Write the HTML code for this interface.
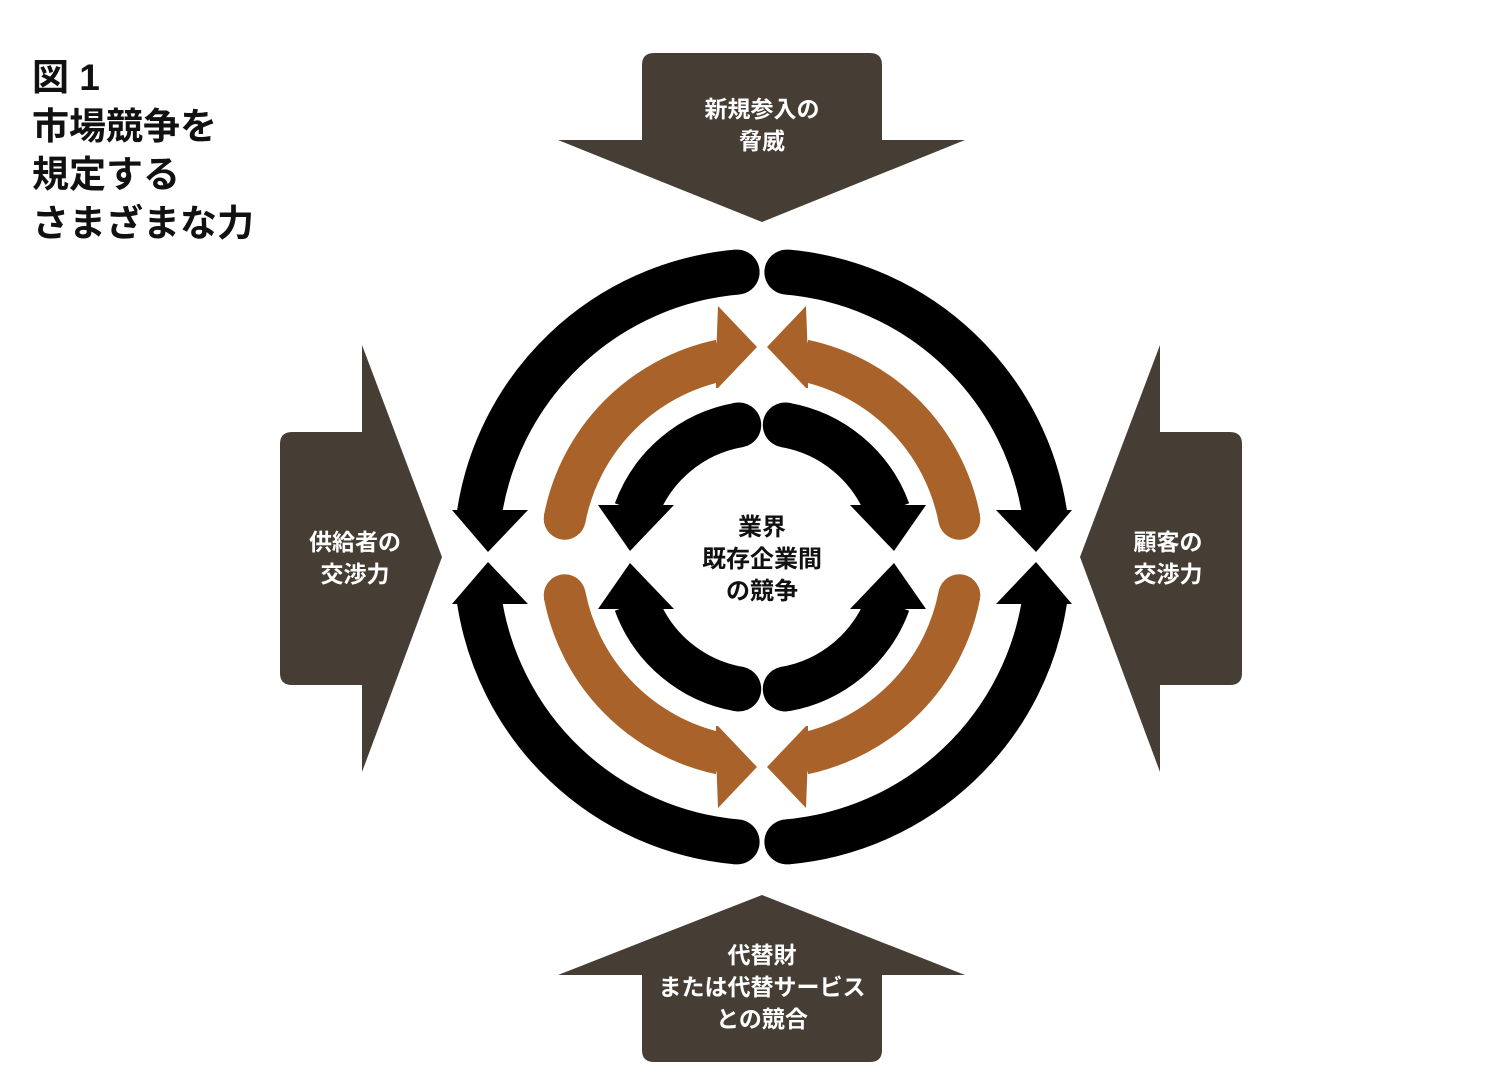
<!DOCTYPE html>
<html><head><meta charset="utf-8"><style>
body{margin:0;background:#fff;}
svg text{font-family:"Liberation Sans","Noto Sans CJK JP",sans-serif;}
</style></head><body>
<svg width="1494" height="1086" viewBox="0 0 1494 1086" xmlns="http://www.w3.org/2000/svg">
<rect width="1494" height="1086" fill="#fff"/>
<g font-size="37" fill="#111" font-weight="bold">
<text x="32" y="90">図 1</text>
<text x="32" y="139">市場競争を</text>
<text x="32" y="187">規定する</text>
<text x="32" y="236">さまざまな力</text>
</g>
<g fill="#463d35">
<path d="M642 65 Q642 53 654 53 L870 53 Q882 53 882 65 L882 140 L965 140 L762 222 L558 140 L642 140 Z"/>
<path d="M642 1050 Q642 1062 654 1062 L870 1062 Q882 1062 882 1050 L882 975 L965 975 L762 895 L558 975 L642 975 Z"/>
<path d="M292 432 Q280 432 280 444 L280 673 Q280 685 292 685 L362 685 L362 772 L442 557 L362 345 L362 432 Z"/>
<path d="M1230 432 Q1242 432 1242 444 L1242 673 Q1242 685 1230 685 L1160 685 L1160 772 L1080 557 L1160 345 L1160 432 Z"/>
</g>
<defs>
<g id="q">
<path d="M737.1 272.1 A286 286 0 0 0 478.8 517.2" fill="none" stroke="#000" stroke-width="45"/>
<circle cx="737.1" cy="272.1" r="22.5" fill="#000"/>
<polygon points="452,510 528,510 488,552" fill="#000"/>
<path d="M564.7 518.7 A201 201 0 0 1 720.2 360.4" fill="none" stroke="#a8622a" stroke-width="42"/>
<circle cx="564.7" cy="518.7" r="21" fill="#a8622a"/>
<polygon points="716,360 718,306 757,347 718,388 716,388" fill="#a8622a"/>
<path d="M738.7 425.0 A134 134 0 0 0 636 511" fill="none" stroke="#000" stroke-width="45"/>
<circle cx="738.7" cy="425" r="22.5" fill="#000"/>
<polygon points="598,505 674,505 630,551" fill="#000"/>
</g>
</defs>
<use href="#q"/>
<use href="#q" transform="translate(1524,0) scale(-1,1)"/>
<use href="#q" transform="translate(0,1114) scale(1,-1)"/>
<use href="#q" transform="translate(1524,1114) scale(-1,-1)"/>
<g font-size="24" fill="#111" text-anchor="middle" font-weight="bold">
<text x="762" y="535">業界</text>
<text x="762" y="567">既存企業間</text>
<text x="762" y="599">の競争</text>
</g>
<g font-size="23" fill="#fff" text-anchor="middle" font-weight="bold">
<text x="762" y="117">新規参入の</text>
<text x="762" y="149">脅威</text>
<text x="355" y="550">供給者の</text>
<text x="355" y="582">交渉力</text>
<text x="1168" y="550">顧客の</text>
<text x="1168" y="582">交渉力</text>
<text x="762" y="963">代替財</text>
<text x="762" y="995">または代替サービス</text>
<text x="762" y="1027">との競合</text>
</g>
</svg>
</body></html>
